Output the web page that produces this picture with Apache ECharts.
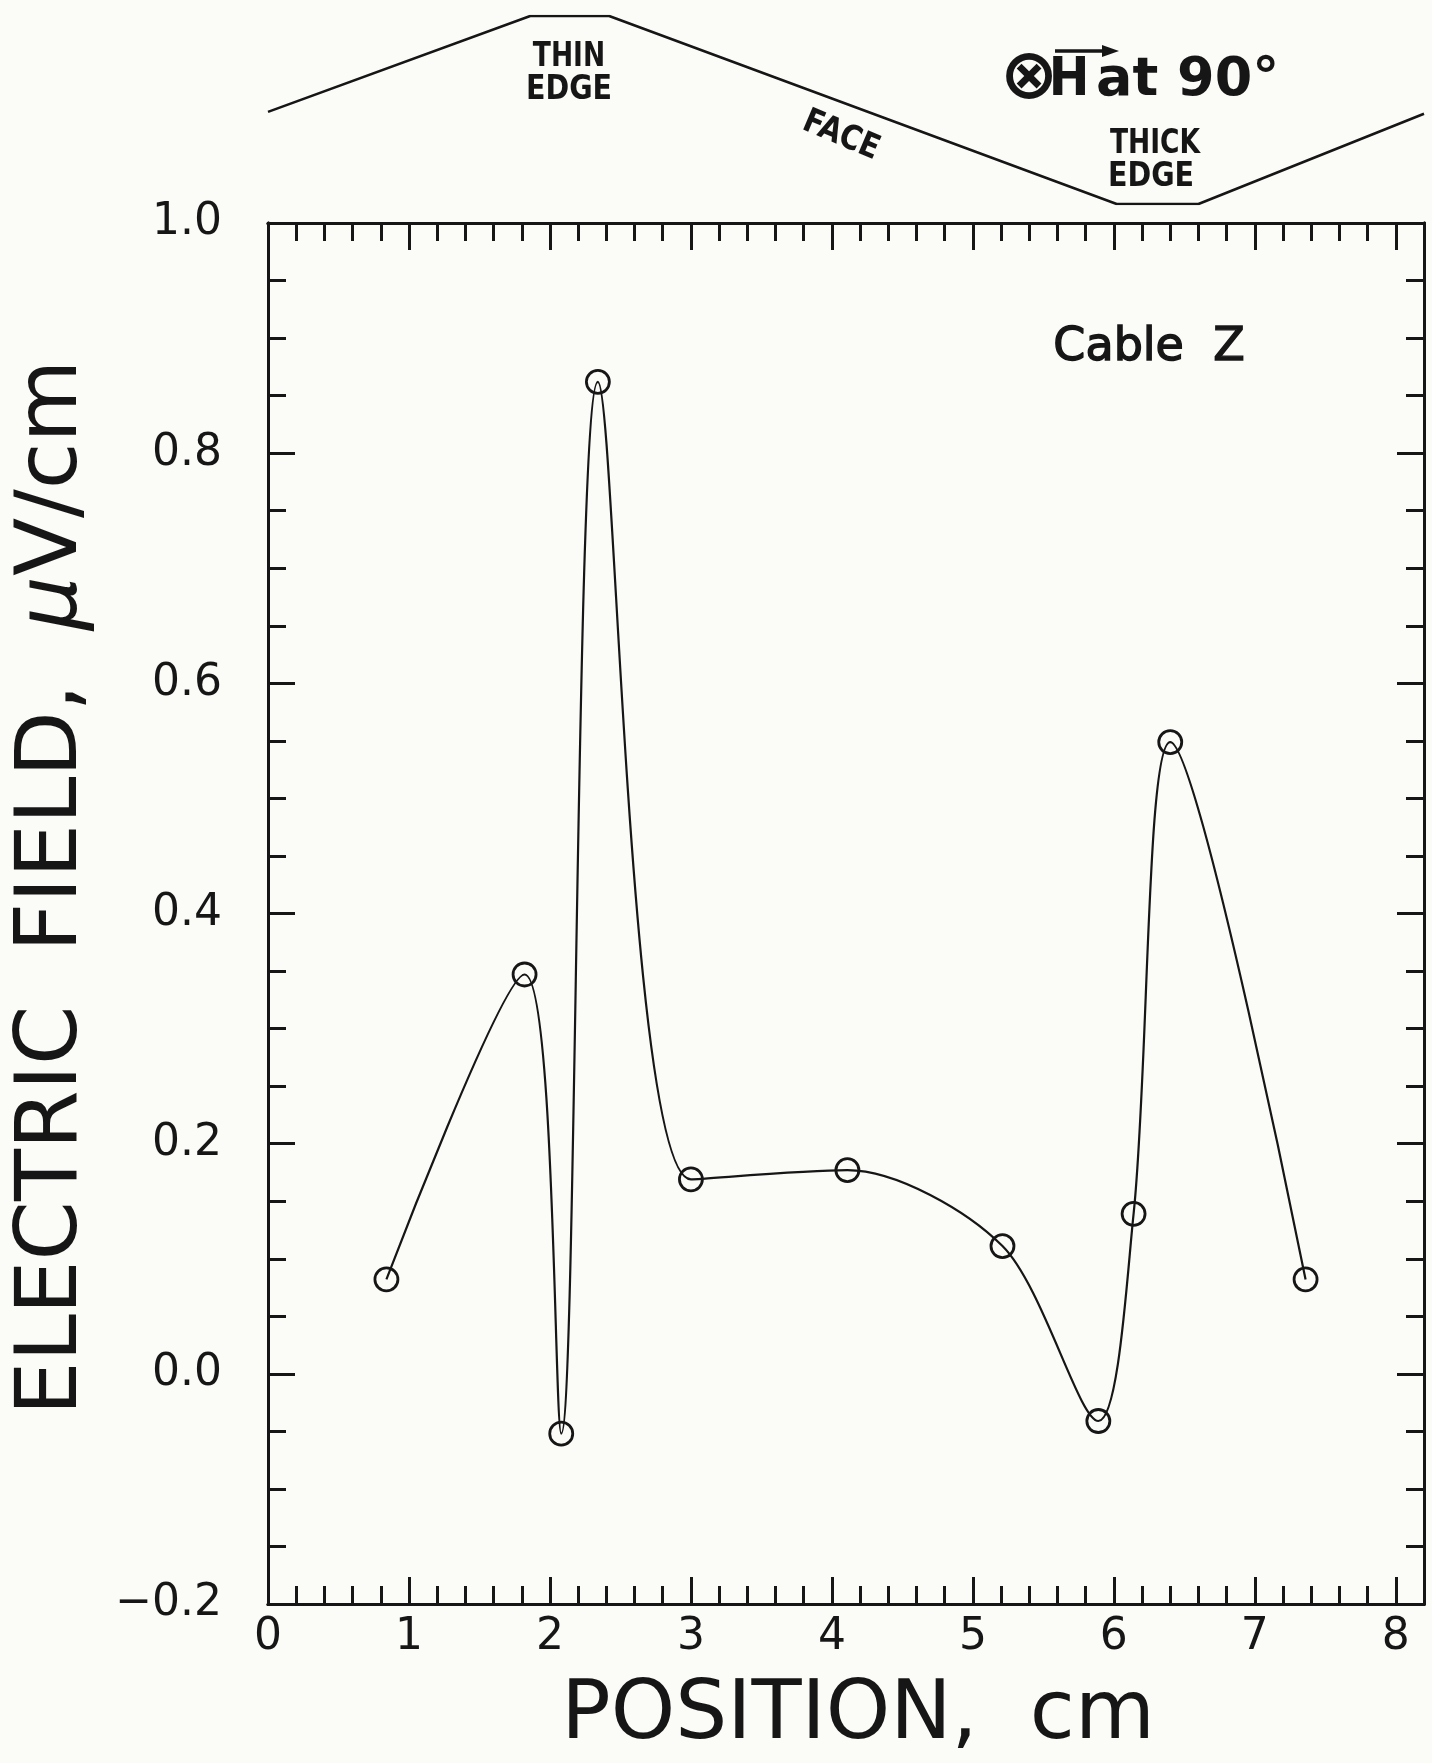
<!DOCTYPE html>
<html>
<head>
<meta charset="utf-8">
<title>Electric field along cable Z</title>
<script src="https://cdn.jsdelivr.net/npm/echarts@6/dist/echarts.min.js"></script>
<style>
  html, body { margin: 0; padding: 0; background: #fbfbf8; }
  #chart { width: 1432px; height: 1763px; }
</style>
</head>
<body>
<div id="chart"></div>
<script>
// Measured electric field along the cable position (H at 90 degrees)
const positions   = [0.84, 1.82, 2.08, 2.34, 3.00, 4.11, 5.21, 5.89, 6.14, 6.40, 7.36];
const fieldValues = [0.082, 0.347, -0.052, 0.862, 0.169, 0.177, 0.111, -0.041, 0.139, 0.549, 0.082];

// Cross-section outline of the cable drawn above the plot (position, relative height)
const profileX = [0, 1.86, 2.42, 6.02, 6.60, 8.2];
const profileY = [0.49, 1, 1, 0, 0, 0.48];

// Axis ranges and tick steps
const xRange = [0, 8.2];
const yRange = [-0.2, 1.0];
const xMajorStep = 1, xMinorStep = 0.2;
const yMajorStep = 0.2, yMinorStep = 0.05;

const INK = '#161616';
const FONT = 'DejaVu Sans';

const fieldData = positions.map((x, i) => [x, fieldValues[i]]);
const profileData = profileX.map((x, i) => [x, profileY[i]]);

function tickAxis(position, step, len, opts) {
  const vertical = position === 'left' || position === 'right';
  return Object.assign({
    type: 'value', gridIndex: 0, position: position,
    min: vertical ? yRange[0] : xRange[0],
    max: vertical ? yRange[1] : xRange[1],
    interval: step,
    axisLine: { show: true, onZero: false, lineStyle: { color: INK, width: 3 } },
    axisTick: { show: true, inside: true, length: len, lineStyle: { color: INK, width: 3 } },
    axisLabel: { show: false },
    splitLine: { show: false }
  }, opts || {});
}

function centered(x, y, text, font, extra) {
  return Object.assign({
    type: 'text', x: x, y: y,
    style: { text: text, font: font, fill: INK, align: 'center', verticalAlign: 'middle', textAlign: 'center', textVerticalAlign: 'middle' }
  }, extra || {});
}

const chart = echarts.init(document.getElementById('chart'), null, { renderer: 'canvas' });

const option = {
  backgroundColor: '#fbfbf8',
  animation: false,
  grid: [
    { left: 268, right: 8, top: 223, bottom: 153 },
    { left: 268, right: 8, top: 16, height: 188 }
  ],
  xAxis: [
    tickAxis('bottom', xMinorStep, 18, {
      name: 'POSITION,  cm',
      nameLocation: 'middle',
      nameGap: 72,
      nameTextStyle: { fontFamily: FONT, fontSize: 82, color: INK, padding: [0, 0, 0, 24] }
    }),
    tickAxis('bottom', xMajorStep, 27, {
      axisLabel: {
        show: true, margin: 12, color: INK, fontFamily: FONT, fontSize: 44,
        formatter: v => (Math.abs(v - Math.round(v)) < 1e-6 ? String(Math.round(v)) : '')
      }
    }),
    tickAxis('top', xMinorStep, 18),
    tickAxis('top', xMajorStep, 27),
    { type: 'value', gridIndex: 1, min: xRange[0], max: xRange[1], show: false }
  ],
  yAxis: [
    tickAxis('left', yMinorStep, 18, {
      name: '{a|ELECTRIC  FIELD,  }{mu|\u03bc}{a|V/cm}',
      nameLocation: 'middle',
      nameGap: 172,
      nameTextStyle: {
        fontFamily: FONT, fontSize: 85, color: INK, padding: [0, 0, 0, 52],
        rich: {
          a: { fontFamily: FONT, fontSize: 85, color: INK },
          mu: { fontFamily: FONT, fontSize: 85, color: INK, fontStyle: 'italic' }
        }
      }
    }),
    tickAxis('left', yMajorStep, 27, {
      axisLabel: {
        show: true, margin: 46, color: INK, fontFamily: FONT, fontSize: 44,
        formatter: v => v.toFixed(1).replace('-', '\u2212')
      }
    }),
    tickAxis('right', yMinorStep, 18),
    tickAxis('right', yMajorStep, 27),
    { type: 'value', gridIndex: 1, min: 0, max: 1, show: false }
  ],
  series: [
    {
      name: 'Cable Z',
      type: 'line',
      xAxisIndex: 0, yAxisIndex: 0,
      data: fieldData,
      smooth: 0.3,
      symbol: 'circle',
      symbolSize: 23,
      itemStyle: { color: 'rgba(0,0,0,0)', borderColor: INK, borderWidth: 2.8 },
      lineStyle: { color: INK, width: 2.2 },
      z: 3
    },
    {
      name: 'outline',
      type: 'line',
      xAxisIndex: 4, yAxisIndex: 4,
      data: profileData,
      symbol: 'none',
      lineStyle: { color: INK, width: 2.6 },
      silent: true
    }
  ],
  graphic: [
    centered(1149, 348, 'Cable  Z', '46px "DejaVu Sans"', { style: { text: 'Cable  Z', font: '46px "DejaVu Sans"', fill: INK, stroke: INK, lineWidth: 1.4, align: 'center', verticalAlign: 'middle', textAlign: 'center', textVerticalAlign: 'middle' } }),
    centered(569, 57, 'THIN', 'bold 34px "DejaVu Sans"', { scaleX: 0.78 }),
    centered(569, 90, 'EDGE', 'bold 34px "DejaVu Sans"', { scaleX: 0.84 }),
    centered(841, 136, 'FACE', 'bold 34px "DejaVu Sans"', { rotation: -0.4, scaleX: 0.85 }),
    centered(1155, 144, 'THICK', 'bold 34px "DejaVu Sans"', { scaleX: 0.78 }),
    centered(1151, 177, 'EDGE', 'bold 34px "DejaVu Sans"', { scaleX: 0.84 }),
    centered(1029, 80, '\u2297', 'bold 70px "DejaVu Sans"'),
    centered(1069, 81, 'H', 'bold 54px "DejaVu Sans"', { scaleX: 0.9 }),
    {
      type: 'text', x: 1096, y: 81, scaleX: 1.0,
      style: { text: 'at 90\u00b0', font: 'bold 54px "DejaVu Sans"', fill: INK, align: 'left', verticalAlign: 'middle', textAlign: 'left', textVerticalAlign: 'middle' }
    },
    { type: 'polyline', shape: { points: [[1055, 51], [1108, 51]] }, style: { stroke: INK, lineWidth: 3.5 } },
    { type: 'polygon', shape: { points: [[1102, 45], [1119, 51], [1102, 57]] }, style: { fill: INK } }
  ]
};

chart.setOption(option);
</script>
</body>
</html>
